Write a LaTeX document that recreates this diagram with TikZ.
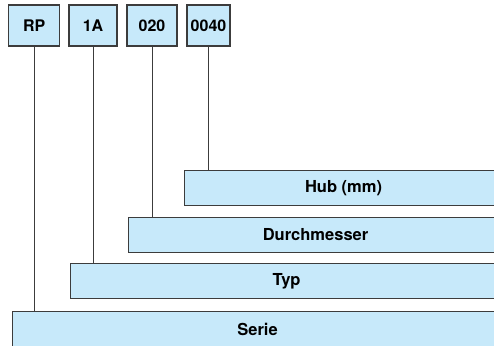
\documentclass[tikz,border=0pt]{standalone}
\usepackage{fontspec}
\setmainfont{TeX Gyre Heros}
\usepackage{xcolor}
\usepackage{tikz}
\definecolor{lightblue}{RGB}{199,233,250}
\definecolor{darkline}{RGB}{60,60,60}
\begin{document}
\begin{tikzpicture}[x=1pt,y=-1pt,
code/.style={draw=darkline,fill=lightblue,line width=1.1pt,minimum height=41pt,inner sep=0pt,font=\fontsize{16}{18}\selectfont\bfseries},
bar/.style={draw=darkline,fill=lightblue,line width=1.1pt,minimum height=35pt,anchor=north west,inner sep=0pt,font=\fontsize{16.5}{18}\selectfont\bfseries},
link/.style={draw=darkline,line width=0.9pt}]
\useasboundingbox(0,0)rectangle(494,345);
\clip(0,0)rectangle(494,345);
\node[code,minimum width=51pt](rp)at(34.3,25.5){RP};
\node[code,minimum width=48pt](typcode)at(93,25.5){1A};
\node[code,minimum width=50pt](dmcode)at(152,25.5){020};
\node[code,minimum width=43pt](hubcode)at(208.5,25.5){0040};
\node[bar,minimum width=318pt](hub)at(184,170){Hub (mm)};
\node[bar,minimum width=374pt](durch)at(128,217){Durchmesser};
\node[bar,minimum width=432pt](typ)at(70,263){Typ};
\node[bar,minimum width=490pt](serie)at(12,311){Serie};
\draw[link](rp.south)--(rp.south|-serie.north);
\draw[link](typcode.south)--(typcode.south|-typ.north);
\draw[link](dmcode.south)--(dmcode.south|-durch.north);
\draw[link](hubcode.south)--(hubcode.south|-hub.north);
\end{tikzpicture}
\end{document}
